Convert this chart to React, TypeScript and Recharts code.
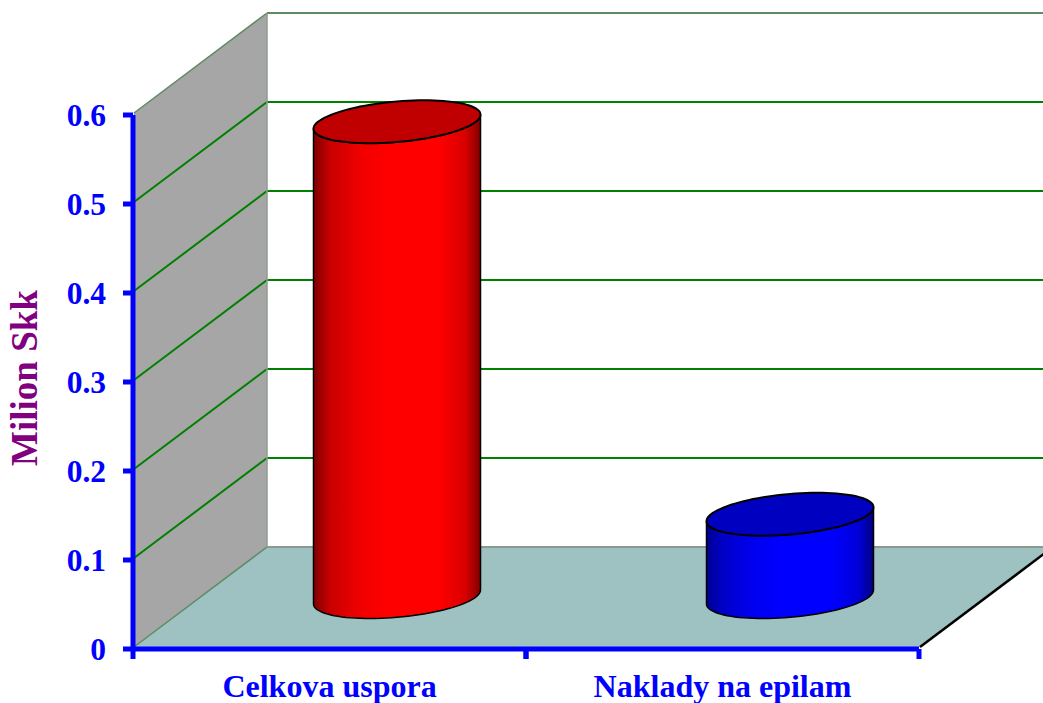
import { BarChart, Bar, XAxis, YAxis, Customized, usePlotArea } from "recharts";

const categories = ["Celkova uspora", "Naklady na epilam"];
const values = [0.534, 0.093];
const yTicks = [0, 0.1, 0.2, 0.3, 0.4, 0.5, 0.6];
const yMax = 0.6;
const axisTitle = "Milion Skk";

const sideColors = [
  ["#800000", "#c80000", "#f00000", "#ff0000", "#ff0000", "#d80000", "#800000"],
  ["#000090", "#0000c8", "#0000f0", "#0000ff", "#0000ff", "#0000d8", "#000080"],
];
const topColors = ["#c00000", "#0000c0"];
const stopOffsets = ["0%", "10%", "28%", "45%", "75%", "91%", "100%"];

const DEPTH_X = 133;
const DEPTH_Y = 100;
// the walls sit slightly off the blue axes in the original
const ROOM_DX = 1;
const ROOM_DY = -2;
const AXIS_BLUE = "#0000ff";
const GRID_GREEN = "#008000";
const SERIF = '"Liberation Serif", "Times New Roman", serif';

const data = categories.map((name, i) => ({ name, value: values[i] }));

function Room() {
  const plot = usePlotArea();
  if (!plot) return null;
  const { width, height } = plot;
  const x = plot.x + ROOM_DX;
  const y = plot.y + ROOM_DY;
  const yAt = (v: number) => y + height * (1 - v / yMax);
  const bottom = y + height;
  const right = x + width;

  return (
    <g>
      <defs>
        {sideColors.map((stops, i) => (
          <linearGradient key={i} id={`side-${i}`} x1="0" y1="0" x2="1" y2="0">
            {stops.map((c, j) => (
              <stop key={j} offset={stopOffsets[j]} stopColor={c} />
            ))}
          </linearGradient>
        ))}
      </defs>
      <polygon
        points={`${x},${y} ${x + DEPTH_X},${y - DEPTH_Y} ${x + DEPTH_X},${bottom - DEPTH_Y} ${x},${bottom}`}
        fill="#a6a6a6"
      />
      <polygon
        points={`${x},${bottom} ${x + DEPTH_X},${bottom - DEPTH_Y} ${right + DEPTH_X},${bottom - DEPTH_Y} ${right},${bottom}`}
        fill="#9dc2c1"
      />
      {yTicks.map((t) => {
        const ty = yAt(t);
        const edge = t === 0 || t === yMax;
        const color = edge ? "#5f8a64" : GRID_GREEN;
        if (t === 0) {
          return (
            <g key={t}>
              <line x1={x} y1={ty} x2={x + DEPTH_X} y2={ty - DEPTH_Y} stroke={color} strokeWidth={1.5} />
              <line x1={x + DEPTH_X} y1={ty - DEPTH_Y} x2={right + DEPTH_X} y2={ty - DEPTH_Y} stroke="#8a9a90" strokeWidth={2} />
            </g>
          );
        }
        return (
          <g key={t}>
            <line x1={x} y1={ty} x2={x + DEPTH_X} y2={ty - DEPTH_Y} stroke={color} strokeWidth={edge ? 1.5 : 2} />
            <line x1={x + DEPTH_X} y1={ty - DEPTH_Y} x2={right + DEPTH_X} y2={ty - DEPTH_Y} stroke={color} strokeWidth={2} />
          </g>
        );
      })}
      <line x1={x + DEPTH_X} y1={y - DEPTH_Y} x2={x + DEPTH_X} y2={bottom - DEPTH_Y} stroke="#8f9a92" strokeWidth={1.5} />
      <line x1={right} y1={bottom} x2={right + DEPTH_X} y2={bottom - DEPTH_Y} stroke="#000" strokeWidth={2.5} />
    </g>
  );
}

function Cylinder(props: any) {
  const { x, y, width, height, index } = props;
  const a = width / 2;
  const cx = x + a + DEPTH_X / 2 + ROOM_DX;
  const topY = y - DEPTH_Y / 2 + ROOM_DY;
  const botY = y + height - DEPTH_Y / 2 + ROOM_DY;
  const tilt = a * 0.084;
  const b = a * 0.243;

  const pt = (t: number, cy: number) =>
    `${(cx + a * Math.cos(t)).toFixed(1)},${(cy + b * Math.sin(t) - tilt * Math.cos(t)).toFixed(1)}`;

  const steps = 48;
  const front: string[] = [];
  const back: string[] = [];
  for (let i = 0; i <= steps; i++) {
    const t = (Math.PI * i) / steps;
    front.push(pt(t, botY));
    back.push(pt(Math.PI - t, topY));
  }
  const topRing: string[] = [];
  for (let i = 0; i <= steps * 2; i++) {
    topRing.push(pt((Math.PI * i) / steps, topY));
  }

  return (
    <g>
      <path
        d={`M${front.join("L")}L${back.join("L")}Z`}
        fill={`url(#side-${index})`}
        stroke="#000"
        strokeWidth={1.5}
      />
      <path d={`M${topRing.join("L")}Z`} fill={topColors[index]} stroke="#000" strokeWidth={2} />
    </g>
  );
}

function CategoryTick(props: any) {
  const { x, y, payload } = props;
  const plot = usePlotArea();
  const half = plot ? plot.width / categories.length / 2 : 0;
  const axisY = plot ? plot.y + plot.height : y;
  return (
    <g>
      <line x1={x - half} y1={axisY} x2={x - half} y2={axisY + 10} stroke={AXIS_BLUE} strokeWidth={5} />
      <line x1={x + half} y1={axisY} x2={x + half} y2={axisY + 10} stroke={AXIS_BLUE} strokeWidth={5} />
      <text
        x={x}
        y={axisY + 48}
        textAnchor="middle"
        fill={AXIS_BLUE}
        fontFamily={SERIF}
        fontWeight="bold"
        fontSize={32}
      >
        {payload.value}
      </text>
    </g>
  );
}

export default function App() {
  return (
    <div style={{ position: "absolute", left: 0, top: 0, width: 1043, height: 703, overflow: "hidden", background: "#fff" }}>
      <BarChart
        width={1043}
        height={703}
        data={data}
        margin={{ top: 115, right: 124, left: 0, bottom: 0 }}
        barCategoryGap={0}
      >
        <Customized component={<Room />} />
        <XAxis
          dataKey="name"
          height={54}
          interval={0}
          axisLine={{ stroke: AXIS_BLUE, strokeWidth: 5 }}
          tickLine={false}
          tick={<CategoryTick />}
        />
        <YAxis
          width={133}
          domain={[0, yMax]}
          ticks={yTicks}
          interval={0}
          tickSize={10}
          tickMargin={17}
          axisLine={{ stroke: AXIS_BLUE, strokeWidth: 5 }}
          tickLine={{ stroke: AXIS_BLUE, strokeWidth: 5 }}
          tick={{ fill: AXIS_BLUE, fontFamily: SERIF, fontWeight: "bold", fontSize: 31.5 }}
          tickFormatter={(v: number) => (v === 0 ? "0" : v.toFixed(1))}
          label={{
            value: axisTitle,
            angle: -90,
            position: "insideLeft",
            offset: 0,
            dx: 24,
            dy: -4,
            style: { fill: "#800080", fontFamily: SERIF, fontWeight: "bold", fontSize: 37, textAnchor: "middle" },
          }}
        />
        <Bar dataKey="value" barSize={167} shape={<Cylinder />} isAnimationActive={false} />
      </BarChart>
    </div>
  );
}
